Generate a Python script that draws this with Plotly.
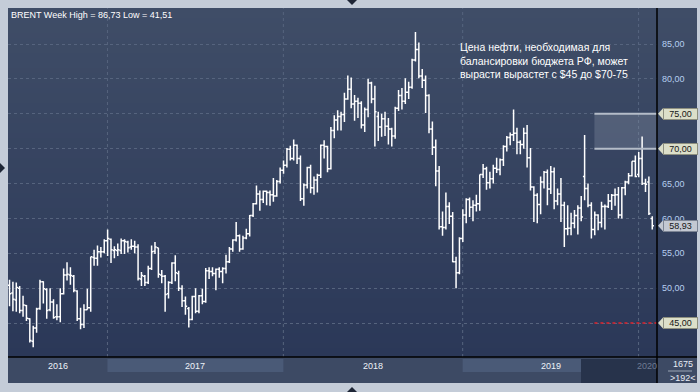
import plotly.graph_objects as go

# ---------------- data (weekly Brent bars) ----------------
dates = [
    "2016-06-13","2016-06-20","2016-06-27","2016-07-04","2016-07-11","2016-07-18","2016-07-25","2016-08-01",
    "2016-08-08","2016-08-15","2016-08-22","2016-08-29","2016-09-05","2016-09-12","2016-09-19","2016-09-26",
    "2016-10-03","2016-10-10","2016-10-17","2016-10-24","2016-10-31","2016-11-07","2016-11-14","2016-11-21",
    "2016-11-28","2016-12-05","2016-12-12","2016-12-19","2016-12-26",
    "2017-01-02","2017-01-09","2017-01-16","2017-01-23","2017-01-30","2017-02-06","2017-02-13","2017-02-20",
    "2017-02-27","2017-03-06","2017-03-13","2017-03-20","2017-03-27","2017-04-03","2017-04-10","2017-04-17",
    "2017-04-24","2017-05-01","2017-05-08","2017-05-15","2017-05-22","2017-05-29","2017-06-05","2017-06-12",
    "2017-06-19","2017-06-26","2017-07-03","2017-07-10","2017-07-17","2017-07-24","2017-07-31","2017-08-07",
    "2017-08-14","2017-08-21","2017-08-28","2017-09-04","2017-09-11","2017-09-18","2017-09-25","2017-10-02",
    "2017-10-09","2017-10-16","2017-10-23","2017-10-30","2017-11-06","2017-11-13","2017-11-20","2017-11-27",
    "2017-12-04","2017-12-11","2017-12-18","2017-12-25",
    "2018-01-01","2018-01-08","2018-01-15","2018-01-22","2018-01-29","2018-02-05","2018-02-12","2018-02-19",
    "2018-02-26","2018-03-05","2018-03-12","2018-03-19","2018-03-26","2018-04-02","2018-04-09","2018-04-16",
    "2018-04-23","2018-04-30","2018-05-07","2018-05-14","2018-05-21","2018-05-28","2018-06-04","2018-06-11",
    "2018-06-18","2018-06-25","2018-07-02","2018-07-09","2018-07-16","2018-07-23","2018-07-30","2018-08-06",
    "2018-08-13","2018-08-20","2018-08-27","2018-09-03","2018-09-10","2018-09-17","2018-09-24","2018-10-01",
    "2018-10-08","2018-10-15","2018-10-22","2018-10-29","2018-11-05","2018-11-12","2018-11-19","2018-11-26",
    "2018-12-03","2018-12-10","2018-12-17","2018-12-24",
    "2018-12-31","2019-01-07","2019-01-14","2019-01-21","2019-01-28","2019-02-04","2019-02-11","2019-02-18",
    "2019-02-25","2019-03-04","2019-03-11","2019-03-18","2019-03-25","2019-04-01","2019-04-08","2019-04-15",
    "2019-04-22","2019-04-29","2019-05-06","2019-05-13","2019-05-20","2019-05-27","2019-06-03","2019-06-10",
    "2019-06-17","2019-06-24","2019-07-01","2019-07-08","2019-07-15","2019-07-22","2019-07-29","2019-08-05",
    "2019-08-12","2019-08-19","2019-08-26","2019-09-02","2019-09-09","2019-09-16","2019-09-23","2019-09-30",
    "2019-10-07","2019-10-14","2019-10-21","2019-10-28","2019-11-04","2019-11-11","2019-11-18","2019-11-25",
    "2019-12-02","2019-12-09","2019-12-16","2019-12-23","2019-12-30",
    "2020-01-02","2020-01-06","2020-01-13","2020-01-20","2020-01-27",
]
opens = [
    50.4,49.3,48.3,50.0,46.8,47.5,45.6,42.4,44.3,47.1,50.9,49.8,46.9,48.0,45.9,45.9,
    49.2,51.9,51.9,51.7,49.6,45.6,44.8,46.9,47.2,54.4,54.3,55.2,55.2,
    56.8,57.0,55.4,55.4,55.4,56.8,56.6,55.9,56.0,55.9,51.3,51.7,50.8,52.8,55.3,55.8,
    51.9,51.7,49.2,50.8,53.6,52.1,49.9,48.2,47.1,45.5,48.8,46.7,48.9,48.1,52.5,52.4,
    52.1,52.7,52.4,52.8,53.8,55.6,56.9,57.5,55.6,57.2,57.8,60.4,62.1,63.5,62.7,63.9,
    63.7,63.4,63.2,65.3,
    66.9,67.6,69.9,68.6,70.5,68.6,62.8,64.8,67.3,64.4,65.5,66.2,70.5,70.3,67.1,72.6,
    74.1,74.6,74.9,77.1,78.5,76.4,76.8,76.5,73.4,75.6,79.4,77.1,74.6,73.1,74.3,73.2,
    72.8,71.8,75.8,77.6,76.8,78.1,78.8,82.7,84.2,80.4,79.8,77.6,72.8,70.2,66.8,58.8,
    58.7,61.7,60.3,53.8,
    52.2,57.1,60.5,62.7,61.6,61.9,62.1,66.3,67.1,65.1,65.7,67.2,67.0,68.4,70.3,71.6,
    72.0,72.2,70.9,70.6,72.2,68.7,64.5,63.3,62.0,65.2,66.6,64.2,66.7,62.5,63.5,61.9,
    58.5,58.6,59.3,60.4,61.5,66.0,64.3,61.9,58.4,60.5,59.4,61.7,61.7,62.5,63.3,63.4,
    60.5,64.4,65.2,66.1,68.2,
    66.3,68.6,65.0,65.2,60.0,
]
highs = [
    51.2,50.9,50.8,50.3,48.9,47.6,45.7,44.6,47.2,51.2,51.0,50.0,50.0,48.4,47.7,50.0,
    52.8,53.7,53.0,51.9,49.7,47.2,47.7,49.9,54.5,55.5,56.1,55.9,57.0,
    58.4,57.1,56.0,56.4,57.1,57.0,56.8,57.0,56.8,56.3,52.3,51.9,53.2,56.1,56.6,55.8,
    52.6,51.9,51.0,53.7,54.7,52.5,50.4,48.8,47.3,48.9,50.0,49.0,49.9,52.9,53.0,53.0,
    52.8,53.0,53.0,54.8,55.9,57.0,59.5,57.7,57.5,58.5,60.5,62.2,64.7,64.0,64.0,64.0,
    64.0,65.8,65.5,67.3,
    68.3,70.1,70.4,71.3,70.6,69.0,65.0,67.4,67.7,66.0,66.4,70.6,71.2,70.4,73.1,74.8,
    75.5,75.3,78.0,80.5,80.2,77.7,77.3,76.8,75.9,80.0,79.6,79.0,75.3,75.0,75.3,74.4,
    73.0,76.0,78.4,78.7,80.1,79.6,82.9,86.73,85.2,81.4,80.5,77.8,73.9,71.3,67.5,61.0,
    63.7,62.3,60.9,54.5,
    57.3,61.3,62.9,63.0,62.6,63.4,66.3,67.8,67.4,66.7,67.7,68.7,68.6,70.5,71.8,72.3,
    75.6,73.0,71.2,73.0,73.4,70.1,64.6,63.6,66.0,66.8,67.0,67.5,67.3,64.3,65.8,62.4,
    61.9,60.8,61.2,61.9,63.2,71.95,65.0,62.3,61.0,60.6,62.4,62.0,63.5,63.5,64.3,64.5,
    64.5,65.4,66.5,68.2,69.0,
    69.5,71.75,65.7,66.0,60.3,
]
lows = [
    47.4,46.7,46.6,46.4,45.9,45.3,42.2,41.51,43.6,46.9,47.8,45.6,46.7,45.6,45.4,45.1,
    49.1,51.1,50.5,49.4,45.3,44.1,44.3,46.9,46.6,53.2,53.2,54.4,55.0,
    54.6,53.6,54.3,54.6,54.9,54.9,55.1,55.5,55.0,51.1,50.3,50.3,50.6,52.6,54.9,51.5,
    50.7,46.6,48.5,50.6,51.0,49.6,47.3,46.2,44.35,45.4,46.4,46.4,47.7,47.9,51.3,51.7,
    49.7,51.5,50.7,52.1,53.6,55.2,56.7,55.2,55.5,57.0,57.4,60.2,62.0,61.1,62.2,61.9,
    61.8,62.4,63.1,65.0,
    66.4,67.3,68.3,68.3,67.8,62.5,61.8,64.3,63.6,63.4,63.7,65.8,68.6,66.6,67.0,71.5,
    72.6,72.6,73.8,77.0,75.8,74.0,74.4,72.9,72.4,74.5,76.5,70.3,71.1,71.7,71.8,70.6,
    70.3,71.4,75.4,75.6,76.4,77.1,78.6,82.5,80.1,78.7,75.1,72.2,69.1,64.6,58.4,57.5,
    58.4,59.2,53.7,50.0,
    52.0,56.6,59.3,60.2,59.6,61.0,61.1,65.8,64.1,64.3,65.0,66.5,66.2,67.5,69.6,70.5,
    71.1,69.2,69.2,70.0,67.3,64.0,59.5,59.3,60.6,64.3,61.9,63.5,61.3,61.9,59.5,55.9,
    57.6,57.6,58.6,57.7,59.6,62.6,61.6,57.1,57.6,58.3,58.7,58.4,61.5,61.2,61.8,60.0,
    60.0,63.3,64.9,66.0,65.9,
    65.9,64.8,63.8,60.5,58.4,
]
closes = [
    49.2,48.4,50.1,46.8,47.6,45.7,42.5,44.3,47.0,50.9,49.9,46.8,48.0,45.8,45.9,49.2,
    51.9,52.0,51.8,49.7,45.6,44.8,46.9,47.2,54.5,54.3,55.2,55.2,56.8,
    57.1,55.5,55.5,55.5,56.8,56.7,55.8,56.0,55.9,51.4,51.8,50.8,52.8,55.2,55.9,52.0,
    51.7,49.1,50.8,53.6,52.2,50.0,48.2,47.4,45.5,48.8,46.7,48.9,48.1,52.5,52.4,52.1,
    52.7,52.4,52.8,53.8,55.6,56.9,57.5,55.6,57.2,57.8,60.4,62.1,63.5,62.7,63.9,63.7,
    63.4,63.2,65.3,66.9,
    67.6,69.9,68.6,70.5,68.6,62.8,64.8,67.3,64.4,65.5,66.2,70.5,70.3,67.1,72.6,74.1,
    74.6,74.9,77.1,78.5,76.4,76.8,76.5,73.4,75.6,79.4,77.1,75.3,73.1,74.3,73.2,72.8,
    71.8,75.8,77.6,76.8,78.1,78.8,82.7,84.2,80.4,79.8,77.6,72.8,70.2,66.8,58.8,58.7,
    61.7,60.3,53.8,52.2,
    57.1,60.5,62.7,61.6,61.9,62.1,66.3,67.1,65.1,65.7,67.2,67.0,68.4,70.3,71.6,72.0,
    72.2,70.9,70.6,72.2,68.7,64.5,63.3,62.0,65.2,66.6,64.2,66.7,62.5,63.5,61.9,58.5,
    58.6,59.3,60.4,61.5,60.2,64.3,61.9,58.4,60.5,59.4,61.7,61.7,62.5,63.3,63.4,60.5,
    64.4,65.2,66.1,68.2,66.0,
    68.6,65.0,64.9,60.7,58.93,
]

price_ticks = [45, 50, 55, 60, 65, 70, 75, 80, 85]
zone_low, zone_high = 70, 75
budget_level = 45
zone_start = "2019-10-07"
bar_total_label = "1675"
visible_bars_label = ">192<"
note_text = ("Цена нефти, необходимая для<br>"
             "балансировки бюджета РФ, может<br>"
             "вырасти вырастет с $45 до $70-75")

# ---------------- layout helpers ----------------
W, H = 700, 392
def px(x):
    return x / W
def py(y):
    return 1 - y / H

PL, PR, PT, PB = 8, 657, 8, 357       # plot box (pixels)
x_range = [-0.45, 191.4]
y_range = [40.13, 90.16]
FONT = "Liberation Sans, Arial, sans-serif"

def fmt(v):
    return f"{v:.2f}".replace(".", ",")

idx = list(range(len(dates)))
years = [d[:4] for d in dates]
year_list = sorted(set(years))
year_start = {y: years.index(y) - 0.05 for y in year_list}
bounds = [x_range[0]] + [year_start[y] for y in year_list[1:]] + [x_range[1]]

boxed_levels = [zone_high, zone_low, budget_level]
tick_text = ["" if v in boxed_levels else fmt(v) for v in price_ticks]

fig = go.Figure()
fig.add_trace(go.Ohlc(
    x=idx, open=opens, high=highs, low=lows, close=closes,
    increasing=dict(line=dict(color="white", width=1.5)),
    decreasing=dict(line=dict(color="white", width=1.5)),
    tickwidth=0.5, hoverinfo="skip", showlegend=False,
))

shapes = []
# gradient background (plot + right panel), integer pixel bands
top_c, bot_c = (63, 77, 103), (43, 56, 88)
step = 5
ys = list(range(PT, PB, step))
for k, y0 in enumerate(ys):
    t = k / (len(ys) - 1)
    c = tuple(round(top_c[j] + (bot_c[j] - top_c[j]) * t) for j in range(3))
    y1 = min(y0 + step + 1, PB)
    shapes.append(dict(type="rect", xref="paper", yref="paper", layer="below",
                       x0=px(PL), x1=px(697), y0=py(y1), y1=py(y0),
                       fillcolor=f"rgb{c}", line_width=0))
# bottom axis strip
shapes.append(dict(type="rect", xref="paper", yref="paper", layer="below",
                   x0=px(PL), x1=px(697), y0=py(383), y1=py(PB),
                   fillcolor="#3d4a64", line_width=0))
# alternating year bands
for k, y in enumerate(year_list):
    if k % 2 == 1:
        shapes.append(dict(type="rect", xref="x", yref="paper", layer="below",
                           x0=bounds[k], x1=bounds[k + 1], y0=py(372), y1=py(359),
                           fillcolor="#4a5a77", line_width=0))
# dark region at the right of the time strip
shapes.append(dict(type="rect", xref="paper", yref="paper", layer="below",
                   x0=px(581), x1=px(PR), y0=py(383), y1=py(359),
                   fillcolor="#27334b", line_width=0))
# vertical year gridlines
for y in year_list[1:]:
    shapes.append(dict(type="line", xref="x", yref="paper", layer="below",
                       x0=year_start[y], x1=year_start[y], y0=py(PB), y1=py(PT),
                       line=dict(color="#56647e", width=1, dash="3px,3px")))
# target zone
zx0 = dates.index(zone_start) - 0.1
shapes.append(dict(type="rect", xref="x", yref="y", layer="below",
                   x0=zx0, x1=x_range[1], y0=zone_low, y1=zone_high,
                   fillcolor="rgba(150,160,180,0.28)", line_width=0))
for lv in (zone_low, zone_high):
    shapes.append(dict(type="line", xref="x", yref="y", layer="above",
                       x0=zx0, x1=x_range[1], y0=lv, y1=lv,
                       line=dict(color="#b4bcc8", width=2)))
shapes.append(dict(type="line", xref="x", yref="y", layer="above",
                   x0=zx0, x1=x_range[1], y0=budget_level, y1=budget_level,
                   line=dict(color="#e0242c", width=1.5, dash="dot")))
# frame lines
shapes.append(dict(type="line", xref="paper", yref="paper", layer="above",
                   x0=px(PR), x1=px(PR), y0=py(383), y1=py(PT),
                   line=dict(color="black", width=1.5)))
shapes.append(dict(type="line", xref="paper", yref="paper", layer="above",
                   x0=px(PL), x1=px(697), y0=py(PB), y1=py(PB),
                   line=dict(color="black", width=1.5)))
shapes.append(dict(type="line", xref="paper", yref="paper", layer="above",
                   x0=px(668), x1=px(692), y0=py(371), y1=py(371),
                   line=dict(color="#9aa4b4", width=1)))
# border scroll triangles
for (ax, ay, path) in [(352, 0, "M-5,0 L5,0 L0,-5 Z"),
                       (352, 392, "M-5,0 L5,0 L0,5 Z"),
                       (0, 168, "M0,5 L0,-5 L5,0 Z")]:
    shapes.append(dict(type="path", xref="paper", yref="paper", layer="above",
                       xsizemode="pixel", ysizemode="pixel",
                       xanchor=px(ax), yanchor=py(ay), path=path,
                       fillcolor="#1e2636", line_width=0))

annotations = []
# price-label boxes with pointer
box_items = [(zone_high, fmt(zone_high), "#dcdfc9", "#8e9080"),
             (zone_low, fmt(zone_low), "#dcdfc9", "#8e9080"),
             (budget_level, fmt(budget_level), "#dcdfc9", "#8e9080"),
             (closes[-1], fmt(closes[-1]), "#c3c8d2", "#7c8494")]
for lv, txt, fc, bc in box_items:
    shapes.append(dict(type="path", xref="paper", yref="y", layer="above",
                       xsizemode="pixel", ysizemode="pixel",
                       xanchor=px(663), yanchor=lv, path="M0,5.5 L-5,0 L0,-5.5 Z",
                       fillcolor=fc, line_width=0))
    annotations.append(dict(xref="paper", yref="y", x=px(680), y=lv,
                            xanchor="center", yanchor="middle", text=txt,
                            showarrow=False, width=33, height=10, borderpad=0,
                            bgcolor=fc, bordercolor=bc, borderwidth=1,
                            font=dict(family=FONT, size=9, color="#161616")))

annotations.append(dict(xref="paper", yref="paper", x=px(9), y=py(14.5),
                        xanchor="left", yanchor="middle", showarrow=False,
                        text=f"BRENT Week High = {fmt(max(highs))} Low = {fmt(min(lows))}",
                        font=dict(family=FONT, size=9, color="white")))
annotations.append(dict(xref="paper", yref="paper", x=px(458), y=py(39),
                        xanchor="left", yanchor="top", showarrow=False, align="left",
                        text=note_text,
                        font=dict(family=FONT, size=10.5, color="white")))
# year labels
for k, y in enumerate(year_list):
    if y == year_list[-1]:
        annotations.append(dict(xref="paper", yref="paper", x=px(659), y=py(366),
                                xanchor="right", yanchor="middle", showarrow=False, text=y,
                                font=dict(family=FONT, size=9, color="#6f7c93")))
    else:
        annotations.append(dict(xref="x", yref="paper", x=(bounds[k] + bounds[k + 1]) / 2,
                                y=py(366), xanchor="center", yanchor="middle",
                                showarrow=False, text=y,
                                font=dict(family=FONT, size=9, color="#eef2f8")))
annotations.append(dict(xref="paper", yref="paper", x=px(683), y=py(364),
                        xanchor="center", yanchor="middle", showarrow=False,
                        text=bar_total_label, font=dict(family=FONT, size=9, color="#e8ecf4")))
annotations.append(dict(xref="paper", yref="paper", x=px(683), y=py(378),
                        xanchor="center", yanchor="middle", showarrow=False,
                        text=visible_bars_label, font=dict(family=FONT, size=9, color="#e8ecf4")))

fig.update_layout(
    width=W, height=H, margin=dict(l=0, r=0, t=0, b=0),
    paper_bgcolor="#c4ccd8", plot_bgcolor="rgba(0,0,0,0)",
    showlegend=False, hovermode=False,
    xaxis=dict(domain=[px(PL), px(PR)], range=x_range, visible=False,
               rangeslider=dict(visible=False), fixedrange=True),
    yaxis=dict(domain=[py(PB), py(PT)], range=y_range, side="right",
               tickmode="array", tickvals=price_ticks, ticktext=tick_text, ticks="",
               ticklabelstandoff=4, showline=False, zeroline=False,
               showgrid=True, gridcolor="#56647e", gridwidth=1, griddash="3px,3px",
               tickfont=dict(family=FONT, size=9, color="#b6cff0"), fixedrange=True),
    shapes=shapes, annotations=annotations,
)

fig.write_html("out.html", config={"displayModeBar": False},
               post_script="document.body.style.margin='0';document.body.style.overflow='hidden';")
